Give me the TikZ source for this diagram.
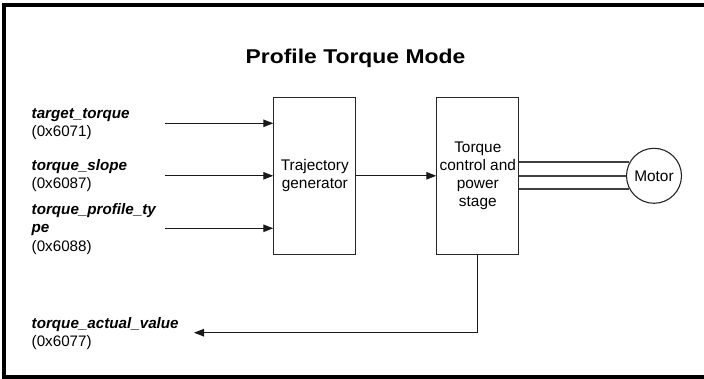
\documentclass[tikz,border=0pt]{standalone}
\usepackage{fontspec}
\setmainfont{Liberation Sans}
\usetikzlibrary{arrows.meta}
\tikzset{
  blk/.style={draw=black!85, line width=1.1pt, minimum width=82pt, minimum height=157pt, inner sep=0pt, align=center, font=\fontsize{15.4}{18}\selectfont},
  lbl/.style={anchor=base west, align=left, inner sep=0pt, font=\fontsize{15.2}{18.4}\selectfont},
  sig/.style={draw=black!90, line width=1.1pt, -{Triangle[length=10pt,width=7.5pt]}},
  pwr/.style={draw=black!75, line width=1.6pt},
}
\begin{document}
\begin{tikzpicture}[x=1pt,y=-1pt]
\useasboundingbox (0,0) rectangle (704,379);
% frame
\draw[line width=4pt] (720,4.7) -- (4,4.7) -- (4,377) -- (720,377);
% title
\node[anchor=base, inner sep=0pt, font=\bfseries\fontsize{21}{24}\selectfont] (title) at (355.5,64) {\scalebox{1.09}[0.95]{Profile Torque Mode}};
% blocks
\node[blk] (tg) at (314.8,175.8) {Trajectory\\generator};
\node[blk] (tc) at (477.8,175.8) {Torque\\control and\\power\\stage};
\node[draw=black!85, line width=1.1pt, circle, minimum size=55pt, inner sep=0pt, font=\fontsize{15.4}{18}\selectfont] (m) at (654,175.8) {Motor};
% labels (anchor = baseline of last line)
\node[lbl] (l1) at (31.5,136.5) {\textbf{\textit{target\_torque}}\\(0x6071)};
\node[lbl] (l2) at (31.5,188.9) {\textbf{\textit{torque\_slope}}\\(0x6087)};
\node[lbl] (l3) at (31.5,251.2) {\textbf{\textit{torque\_profile\_ty}}\\\textbf{\textit{pe}}\\(0x6088)};
\node[lbl] (l4) at (31.5,346.4) {\textbf{\textit{torque\_actual\_value}}\\(0x6077)};
% input arrows
\coordinate (i1) at (165,123.3);
\coordinate (i2) at (165,175.8);
\coordinate (i3) at (165,228.3);
\draw[sig] (i1) -- (i1 -| tg.west);
\draw[sig] (i2) -- (i2 -| tg.west);
\draw[sig] (i3) -- (i3 -| tg.west);
\draw[sig] (tg.east) -- (tc.west);
% feedback
\coordinate (fb) at (194,332.7);
\draw[sig] (tc.south) |- (fb);
% power lines
\draw[pwr] (m.151.8 -| tc.east) -- (m.151.8);
\draw[pwr] (tc.east) -- (m.west);
\draw[pwr] (m.208.2 -| tc.east) -- (m.208.2);
\end{tikzpicture}
\end{document}
